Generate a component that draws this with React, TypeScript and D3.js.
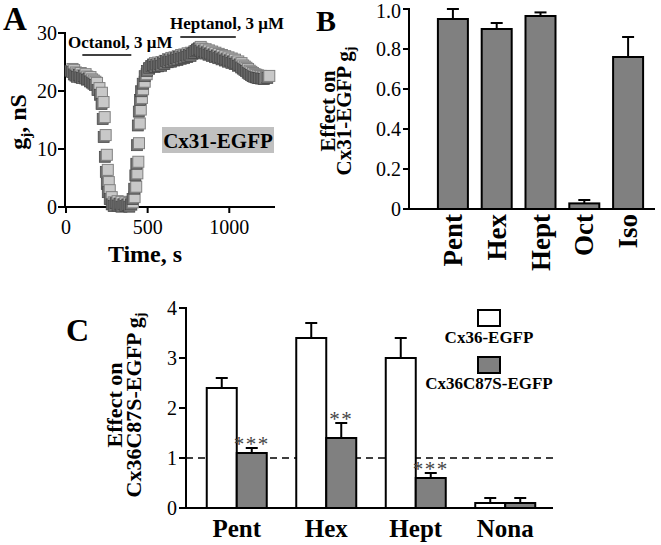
import React from 'react';
import * as d3 from 'd3';

// panel A: gj time course (s, nS)
const timeS = [40, 50, 60, 70, 80, 90, 100, 110, 120, 130, 140, 150, 160, 170, 180, 190, 205, 220, 230, 237,
  243, 250, 256, 262, 268, 280, 292, 304, 316, 328, 340, 352, 364, 376, 388, 400, 410, 420, 430, 437,
  443, 447, 452, 458, 465, 472, 482, 494, 508, 522,
  535, 545, 555, 565, 575, 585, 595, 605, 615, 625, 635, 645, 655, 665, 675, 685, 695,
  705, 715, 725, 735, 745, 755, 765, 775, 785, 795, 805, 815, 825, 835, 845, 855, 865, 875, 885, 895,
  905, 915, 925, 935, 945, 955, 965, 975, 985, 995, 1005, 1015, 1025, 1035, 1045, 1055, 1065, 1075, 1085, 1095,
  1105, 1115, 1125, 1135, 1145, 1155, 1165, 1175, 1185, 1195, 1205, 1215, 1225, 1245];
const gjNs = [23.8, 23.6, 23.2, 23.0, 22.8, 23.1, 22.7, 22.6, 22.9, 22.5, 22.3, 22.4, 22.0, 21.8, 21.6, 21.4, 20.5, 19.7, 18.1, 15.5,
  12.4, 9.0, 6.4, 4.3, 2.9, 1.7, 0.8, 0.5, 1.0, 0.6, 0.9, 0.4, 0.8, 0.5, 0.7, 0.4, 0.8, 1.7, 3.5, 5.8,
  7.8, 11.0, 14.4, 16.8, 18.8, 20.3, 21.6, 22.9, 23.8, 24.3,
  24.6, 24.8, 24.5, 24.9, 24.6, 25.0, 24.7, 25.2, 25.0, 25.5, 25.3, 25.7, 25.4, 25.8, 25.6, 26.0, 25.7,
  26.2, 25.9, 26.3, 26.0, 26.5, 26.2, 26.6, 26.4, 26.8, 26.9, 27.2, 27.4, 27.6, 27.3, 27.0, 27.2, 26.8, 27.0, 26.6, 26.8,
  26.4, 26.6, 26.2, 26.4, 26.0, 26.2, 25.8, 26.0, 25.6, 25.8, 25.4, 25.6, 25.2, 25.4, 25.0, 25.1, 24.7, 24.8, 24.4, 24.2,
  24.0, 23.8, 23.5, 23.3, 23.1, 22.9, 22.8, 22.7, 22.6, 22.6, 22.5, 22.5, 22.4, 22.6];
const octanolS = [100, 400];
const heptanolS = [700, 1040];

// panel B
const bCats = ['Pent', 'Hex', 'Hept', 'Oct', 'Iso'];
const bMean = [0.95, 0.90, 0.965, 0.028, 0.76];
const bErr = [0.05, 0.03, 0.018, 0.017, 0.10];

// panel C
const cCats = ['Pent', 'Hex', 'Hept', 'Nona'];
const cWt = [2.4, 3.4, 3.0, 0.1];
const cWtErr = [0.2, 0.3, 0.4, 0.1];
const cMut = [1.1, 1.4, 0.6, 0.1];
const cMutErr = [0.1, 0.3, 0.1, 0.1];
const cStars = ['***', '**', '***', ''];

const FONT = '"Liberation Serif", "Times New Roman", serif';

const App = () => {
  // ---- A
  const xA = d3.scaleLinear().domain([0, 1280]).range([66, 275]);
  const yA = d3.scaleLinear().domain([0, 30]).range([207, 33]);
  const ms = 11;

  // ---- B
  const xB = d3.scaleBand().domain(bCats).range([431, 650]);
  const yB = d3.scaleLinear().domain([0, 1]).range([209, 9]);

  // ---- C
  const xC = d3.scaleBand().domain(cCats).range([192, 550]);
  const yC = d3.scaleLinear().domain([0, 4]).range([508, 308]);
  const bw = 30;

  return (
    <svg width={661} height={545} style={{ position: 'absolute', left: 0, top: 0, background: '#fff' }}
      fontFamily={FONT}>
      {/* ============ A ============ */}
      <text x={3} y={30} fontSize={33} fontWeight="bold">A</text>
      <line x1={xA(0) - 1} x2={xA(0) - 1} y1={yA(30) - 1} y2={yA(0) + 1} stroke="#000" strokeWidth={2} />
      <line x1={xA(0) - 3} x2={xA.range()[1]} y1={yA(0)} y2={yA(0)} stroke="#000" strokeWidth={2} />
      {yA.ticks(3).map(t => (
        <g key={'ya' + t}>
          <line x1={xA(0) - 8} x2={xA(0) - 1} y1={yA(t)} y2={yA(t)} stroke="#000" strokeWidth={2} />
          <text x={xA(0) - 9} y={yA(t) + 7} fontSize={20} textAnchor="end">{t}</text>
        </g>
      ))}
      {[0, 500, 1000].map(t => (
        <g key={'xa' + t}>
          <line x1={xA(t)} x2={xA(t)} y1={yA(0)} y2={yA(0) + 6} stroke="#000" strokeWidth={2} />
          <text x={xA(t)} y={234} fontSize={20} textAnchor="middle">{t}</text>
        </g>
      ))}
      <text x={145} y={262} fontSize={24} fontWeight="bold" textAnchor="middle">Time, s</text>
      <text transform="translate(26,122) rotate(-90)" fontSize={24} fontWeight="bold" textAnchor="middle">
        g<tspan fontSize={15} dy={5}>j</tspan><tspan dy={-5}>, nS</tspan>
      </text>

      {timeS.map((t, i) => (
        <g key={'m' + i}>
          <rect x={xA(t) - ms / 2 - 2} y={yA(gjNs[i]) - ms / 2 + 2} width={ms} height={ms}
            fill="#6e6e6e" stroke="#444" strokeWidth={0.7} />
          <rect x={xA(t) - ms / 2} y={yA(gjNs[i]) - ms / 2} width={ms} height={ms}
            fill="#c8c8c8" stroke="#808080" strokeWidth={1} />
        </g>
      ))}

      <line x1={xA(octanolS[0])} x2={xA(octanolS[1])} y1={55} y2={55} stroke="#000" strokeWidth={1.6} />
      <text x={68} y={48} fontSize={17} fontWeight="bold">Octanol, 3 μM</text>
      <line x1={xA(heptanolS[0])} x2={xA(heptanolS[1])} y1={37} y2={37} stroke="#000" strokeWidth={1.6} />
      <text x={170} y={29} fontSize={17} fontWeight="bold">Heptanol, 3 μM</text>

      <rect x={162} y={127} width={112} height={26} fill="#c0c0c0" />
      <text x={218} y={148} fontSize={21} fontWeight="bold" textAnchor="middle">Cx31-EGFP</text>

      {/* ============ B ============ */}
      <text x={316} y={31} fontSize={30} fontWeight="bold">B</text>
      <text transform="translate(335,111) rotate(-90)" fontSize={21} fontWeight="bold" textAnchor="middle">Effect on</text>
      <text transform="translate(351,111) rotate(-90)" fontSize={21} fontWeight="bold" textAnchor="middle">
        Cx31-EGFP g<tspan fontSize={14} dy={4}>j</tspan>
      </text>
      {yB.ticks(5).map(t => (
        <g key={'yb' + t}>
          <line x1={403} x2={409} y1={yB(t)} y2={yB(t)} stroke="#000" strokeWidth={2} />
          <text x={401} y={Math.max(yB(t) + 7, 18)} fontSize={20} textAnchor="end">{t === 0 ? '0' : d3.format('.1f')(t)}</text>
        </g>
      ))}
      {bCats.map((c, i) => {
        const cx = (xB(c) as number) + xB.bandwidth() / 2;
        return (
          <g key={'b' + c}>
            <line x1={cx} x2={cx} y1={yB(bMean[i])} y2={yB(bMean[i] + bErr[i])} stroke="#000" strokeWidth={2} />
            <line x1={cx - 6} x2={cx + 6} y1={yB(bMean[i] + bErr[i])} y2={yB(bMean[i] + bErr[i])} stroke="#000" strokeWidth={2} />
            <rect x={cx - 15} y={yB(bMean[i])} width={30} height={yB(0) - yB(bMean[i])}
              fill="#808080" stroke="#000" strokeWidth={2} />
            <text transform={`translate(${cx + 9},214) rotate(-90)`} fontSize={27} fontWeight="bold" textAnchor="end">{c}</text>
          </g>
        );
      })}
      <line x1={409} x2={409} y1={yB(1) - 1} y2={yB(0) + 1} stroke="#000" strokeWidth={2} />
      <line x1={408} x2={655} y1={yB(0)} y2={yB(0)} stroke="#000" strokeWidth={2} />

      {/* ============ C ============ */}
      <text x={66} y={341} fontSize={32} fontWeight="bold">C</text>
      <text transform="translate(122,405) rotate(-90)" fontSize={22} fontWeight="bold" textAnchor="middle">Effect on</text>
      <text transform="translate(141,405) rotate(-90)" fontSize={22} fontWeight="bold" textAnchor="middle">
        Cx36C87S-EGFP g<tspan fontSize={14} dy={4}>j</tspan>
      </text>
      {yC.ticks(4).map(t => (
        <g key={'yc' + t}>
          <line x1={179} x2={186} y1={yC(t)} y2={yC(t)} stroke="#000" strokeWidth={2} />
          <text x={177} y={yC(t) + 7} fontSize={20} textAnchor="end">{t}</text>
        </g>
      ))}
      <line x1={186} x2={553} y1={yC(1)} y2={yC(1)} stroke="#000" strokeWidth={1.4} strokeDasharray="7,5" />
      {cCats.map((c, i) => {
        const cx = (xC(c) as number) + xC.bandwidth() / 2;
        const bars = [
          { x: cx - bw, v: cWt[i], e: cWtErr[i], fill: '#fff' },
          { x: cx, v: cMut[i], e: cMutErr[i], fill: '#808080' },
        ];
        return (
          <g key={'c' + c}>
            {bars.map((b, j) => (
              <g key={j}>
                <line x1={b.x + bw / 2} x2={b.x + bw / 2} y1={yC(b.v)} y2={yC(b.v + b.e)} stroke="#000" strokeWidth={2} />
                <line x1={b.x + bw / 2 - 6} x2={b.x + bw / 2 + 6} y1={yC(b.v + b.e)} y2={yC(b.v + b.e)} stroke="#000" strokeWidth={2} />
                <rect x={b.x} y={yC(b.v)} width={bw} height={yC(0) - yC(b.v)} fill={b.fill} stroke="#000" strokeWidth={2} />
              </g>
            ))}
            {cStars[i] && (
              <text x={cx + bw / 2} y={yC(cMut[i] + cMutErr[i]) + 3} fontSize={21} fill="#444"
                textAnchor="middle" letterSpacing={1.5}>{cStars[i]}</text>
            )}
            <text x={cx} y={537} fontSize={25} fontWeight="bold" textAnchor="middle">{c}</text>
          </g>
        );
      })}
      <line x1={186} x2={186} y1={yC(4) - 1} y2={yC(0) + 1} stroke="#000" strokeWidth={2} />
      <line x1={185} x2={553} y1={yC(0)} y2={yC(0)} stroke="#000" strokeWidth={2} />

      {/* legend */}
      <rect x={478} y={310} width={22} height={16} fill="#fff" stroke="#000" strokeWidth={2} />
      <text x={489} y={343} fontSize={17} fontWeight="bold" textAnchor="middle">Cx36-EGFP</text>
      <rect x={478} y={357} width={22} height={16} fill="#808080" stroke="#000" strokeWidth={2} />
      <text x={489} y={389} fontSize={17} fontWeight="bold" textAnchor="middle">Cx36C87S-EGFP</text>
    </svg>
  );
};

export default App;
